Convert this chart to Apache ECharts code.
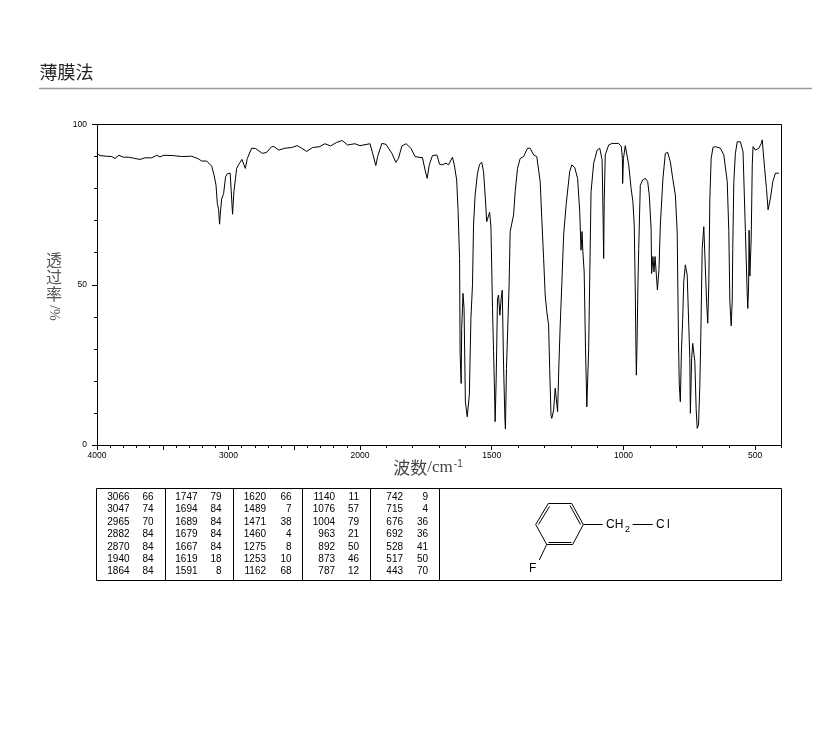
<!DOCTYPE html>
<html>
<head>
<meta charset="utf-8">
<style>
  html, body { margin: 0; padding: 0; background: #fff; }
  #chart { width: 822px; height: 737px; }
</style>
<script src="https://cdn.jsdelivr.net/npm/echarts@6/dist/echarts.min.js"></script>
</head>
<body>
<div id="chart"></div>
<script>
// 4000-2000 half scale
const leftWn = [4002,3977,3926,3888,3863,3833,3800,3762,3724,3673,3635,3584,3546,3521,3491,3420,3356,3280,3230,3204,3166,3128,3110,3095,3085,3075,3068,3063,3052,3037,3022,3007,2987,2979,2969,2959,2938,2921,2898,2885,2872,2857,2824,2794,2743,2710,2672,2655,2617,2571,2521,2477,2444,2406,2361,2305,2267,2224,2178,2135,2095,2039,2000]
const leftT = [91,90.3,90.1,90,89.4,90.4,89.8,89.8,89.5,89.1,89.6,89.6,90.4,89.9,90.4,90.3,90,90.1,89.3,88.6,88.6,87,84.2,81.1,75.4,73.4,68.9,71.8,76.8,78.5,83.7,84.7,84.8,79,72,79,86.3,87.6,89.1,89,86.3,89.4,92.6,92.5,91,91.3,93.1,93.1,92,92.6,92.8,93.4,92.6,91.6,92.8,93.1,94,93.3,94.4,95,93.6,94,93.4]
// 2000-400
const rightWn = [2000,1993,1962,1952,1940,1933,1917,1901,1879,1864,1854,1841,1825,1807,1791,1772,1763,1753,1745,1737,1725,1708,1698,1690,1673,1664,1649,1642,1633,1628,1622,1620,1616,1614,1609,1605,1600,1593,1588,1585,1579,1573,1569,1563,1554,1546,1538,1531,1525,1519,1512,1508,1503,1497,1493,1489,1487,1483,1478,1474,1469,1464,1460,1455,1450,1448,1444,1438,1434,1430,1417,1411,1402,1392,1379,1364,1354,1341,1329,1316,1310,1303,1297,1291,1284,1280,1275,1272,1265,1259,1255,1250,1245,1240,1234,1227,1217,1211,1204,1196,1185,1174,1166,1161,1157,1154,1149,1144,1139,1132,1123,1113,1100,1090,1081,1078,1075,1073,1069,1056,1043,1018,1008,1004,1003,1000,993,986,980,971,964,959,955,953,951,948,945,942,936,927,917,908,902,895,893,888,884,880,875,871,865,860,850,841,832,822,813,803,796,791,788,784,780,775,771,765,758,752,748,746,741,737,733,729,724,720,715,710,706,701,695,689,684,680,676,672,667,660,651,632,619,606,600,596,591,587,585,581,575,568,556,546,537,530,528,525,523,520,515,511,508,499,486,477,473,470,464,457,451,442,433,423,410,400]
const rightT = [93.4,93.2,94,91,87.2,90,94.1,93.8,91,88.2,89.4,93.3,94,92.6,90,89.7,89.7,85.8,83.2,87.4,90.3,90.5,87.6,87.4,87.9,87.4,89.8,87.4,82.7,73.8,58.2,28.6,19.2,36.4,47.3,42.6,13.5,8.8,9.3,15.6,39.5,50,68.6,78,84.8,87.6,88.2,85.3,78,69.7,70.2,72.6,68.1,42.6,29.1,15.6,7.3,20.8,45.7,46.8,40.5,45.7,48.3,24.9,8.3,5,23.9,39.5,49.9,66.6,71.8,79,86.3,89.4,90,92.6,92.6,90.5,90,82.2,70.7,58.2,46.8,41.6,37.4,23.9,9.3,8.3,10.9,17.7,17.1,10.4,25,37.4,50,65.5,75.4,75.7,85.3,87.4,86.6,83.2,72.8,60.8,66.6,60.3,54,30,11.9,30,79,87.9,92,92.6,89,74.9,58.2,76,90.5,93.6,94.1,94.1,93.1,89.4,81.6,89.4,93.4,93.1,87.4,80.1,75.9,68.6,48,33,21.8,33,49.9,61.3,81,82.7,83.2,82.2,78,67.6,53.5,58.8,54,58.8,53,48.4,55,68.6,83.2,91,91.3,88.4,83.2,78,66.6,32.2,18.7,13.5,29,39.5,51,56.2,53,37.4,27,9.9,27,31.7,31.7,26,11.4,5.2,6.2,18.7,35.3,61.3,68.1,68.1,44.2,38,49.9,77,89.4,92.9,93.1,92.6,90.5,82.2,66.6,44.7,37.2,45.2,61.3,82.2,91,94.6,94.6,91.5,66.6,46.8,42.6,49,67,52.7,64.5,87.4,93.1,92,92.6,94.1,95.2,92,86.3,80,73.4,77,82.2,84.8,84.8]

const leftMajor = [4000,3500,3000,2500,2000]
const leftMinor = [3900,3800,3700,3600,3400,3300,3200,3100,2900,2800,2700,2600,2400,2300,2200,2100]
const rightMajor = [2000,1500,1000,500]
const rightMinor = [1900,1800,1700,1600,1400,1300,1200,1100,900,800,700,600,400]
const xLabelsLeft = [4000,3000,2000]
const xLabelsRight = [1500,1000,500]

// peak table, read by column
const peakWn = [
  ['3066','3047','2965','2882','2870','1940','1864'],
  ['1747','1694','1689','1679','1667','1619','1591'],
  ['1620','1489','1471','1460','1275','1253','1162'],
  ['1140','1076','1004','963','892','873','787'],
  ['742','715','676','692','528','517','443']
]
const peakT = [
  ['66','74','70','84','84','84','84'],
  ['79','84','84','84','84','18','8'],
  ['66','7','38','4','8','10','68'],
  ['11','57','79','21','50','46','12'],
  ['9','4','36','36','41','50','70']
]

const cjk = '"Noto Sans CJK SC"'
const small = '"Liberation Sans", sans-serif'

function zip(xs, ys) {
  return xs.map((x, i) => [x, ys[i]])
}

function tickAxis(gridIndex, min, max, ticks, len, labels) {
  return {
    type: 'value', gridIndex: gridIndex, min: min, max: max, inverse: true,
    position: 'bottom', splitLine: { show: false },
    axisLine: { show: true, onZero: false, lineStyle: { color: '#000', width: 1 } },
    axisTick: { show: true, inside: false, length: len, customValues: ticks, lineStyle: { color: '#000', width: 1 } },
    axisLabel: labels
      ? { show: true, customValues: labels, margin: 6, fontSize: 8.5, color: '#000', fontFamily: small, formatter: v => String(v), showMinLabel: true, showMaxLabel: true }
      : { show: false }
  }
}

function yAxisFor(gridIndex, show) {
  return {
    type: 'value', gridIndex: gridIndex, min: 0, max: 100, interval: 50,
    splitLine: { show: false },
    axisLine: { show: show, lineStyle: { color: '#000', width: 1 } },
    axisTick: { show: show, length: 5, lineStyle: { color: '#000', width: 1 } },
    minorTick: { show: show, splitNumber: 5, length: 3, lineStyle: { color: '#000', width: 1 } },
    axisLabel: { show: show, margin: 10, fontSize: 8.5, color: '#000', fontFamily: small }
  }
}

function line(x1, y1, x2, y2, w, color) {
  return { type: 'line', silent: true, shape: { x1: x1, y1: y1, x2: x2, y2: y2 }, style: { stroke: color || '#000', lineWidth: w || 1 } }
}

function label(text, x, y, size, align, family, color) {
  return { type: 'text', silent: true, x: x, y: y, style: { text: text, fontSize: size, fontFamily: family || small, fill: color || '#000', align: align || 'left', verticalAlign: 'middle' } }
}

// table + structure + frame
const graphics = [
  line(39, 88.5, 812, 88.5, 1.5, '#999'),
  label('薄膜法', 39.5, 72, 18, 'left', cjk, '#222'),
  line(96.5, 124.5, 781.5, 124.5),
  line(781.5, 124.5, 781.5, 445.5),
  label('透', 54, 260, 16, 'center', cjk, '#555'),
  label('过', 54, 277, 16, 'center', cjk, '#555'),
  label('率', 54, 294, 16, 'center', cjk, '#555'),
  { type: 'text', silent: true, x: 54, y: 313, rotation: -Math.PI / 2, style: { text: '/%', fontSize: 14, fontFamily: '"Liberation Serif", serif', fill: '#555', align: 'center', verticalAlign: 'middle' } },
  {
    type: 'text', silent: true, x: 428, y: 468,
    style: {
      text: '{a|波数}{b|/cm}{c|-1}', align: 'center', verticalAlign: 'middle',
      rich: {
        a: { fontSize: 17, fontFamily: cjk, fill: '#444' },
        b: { fontSize: 17, fontFamily: '"Liberation Serif", serif', fill: '#444' },
        c: { fontSize: 10, fontFamily: '"Liberation Sans", sans-serif', fill: '#444', verticalAlign: 'top', padding: [0, 0, 6, 1] }
      }
    }
  },
  { type: 'rect', silent: true, shape: { x: 96.5, y: 488.5, width: 685, height: 92 }, style: { fill: 'none', stroke: '#000', lineWidth: 1 } }
]

const colDividers = [165.5, 233.5, 302.5, 370.5, 439.5]
colDividers.forEach(x => graphics.push(line(x, 488.5, x, 580.5)))

const wnRight = [129.5, 197.5, 266, 335, 403]
const tRight = [153.5, 221.5, 291.5, 359, 428]
peakWn.forEach((col, c) => {
  col.forEach((v, r) => {
    const y = 497 + r * 12.45
    graphics.push(label(v, wnRight[c], y, 10, 'right'))
    graphics.push(label(peakT[c][r], tRight[c], y, 10, 'right'))
  })
})

// 3-fluorobenzyl chloride
graphics.push(
  line(548.3, 503.5, 571.7, 503.5),
  line(571.7, 503.5, 583.3, 524.5),
  line(583.3, 524.5, 572.7, 544.5),
  line(572.7, 544.5, 546.7, 544.5),
  line(546.7, 544.5, 535.7, 524.5),
  line(535.7, 524.5, 548.3, 503.5),
  line(549.5, 506.5, 538.5, 524.5),
  line(570, 505.5, 580.5, 524.5),
  line(548.5, 542.5, 571.5, 542.5),
  line(583.3, 524.5, 602.7, 524.5),
  line(632.7, 524.5, 652.7, 524.5),
  line(546.7, 544.5, 539.3, 560),
  label('CH', 606, 524.5, 12),
  label('2', 625, 530, 9),
  label('C', 656, 524.5, 12),
  label('l', 667, 524.5, 12),
  label('F', 529, 568.5, 12)
)

const chart = echarts.init(document.getElementById('chart'))
chart.setOption({
  animation: false,
  backgroundColor: '#fff',
  grid: [
    { left: 97, top: 124.5, width: 263, height: 320.5 },
    { left: 360, top: 124.5, width: 421.5, height: 320.5 }
  ],
  xAxis: [
    tickAxis(0, 2000, 4000, leftMajor, 5, xLabelsLeft),
    tickAxis(1, 400, 2000, rightMajor, 5, xLabelsRight),
    tickAxis(0, 2000, 4000, leftMinor, 3, null),
    tickAxis(1, 400, 2000, rightMinor, 3, null)
  ],
  yAxis: [yAxisFor(0, true), yAxisFor(1, false)],
  series: [
    { type: 'line', xAxisIndex: 0, yAxisIndex: 0, data: zip(leftWn, leftT), showSymbol: false, silent: true, lineStyle: { color: '#000', width: 1 } },
    { type: 'line', xAxisIndex: 1, yAxisIndex: 1, data: zip(rightWn, rightT), showSymbol: false, silent: true, lineStyle: { color: '#000', width: 1 } }
  ],
  graphic: graphics
})
</script>
</body>
</html>
